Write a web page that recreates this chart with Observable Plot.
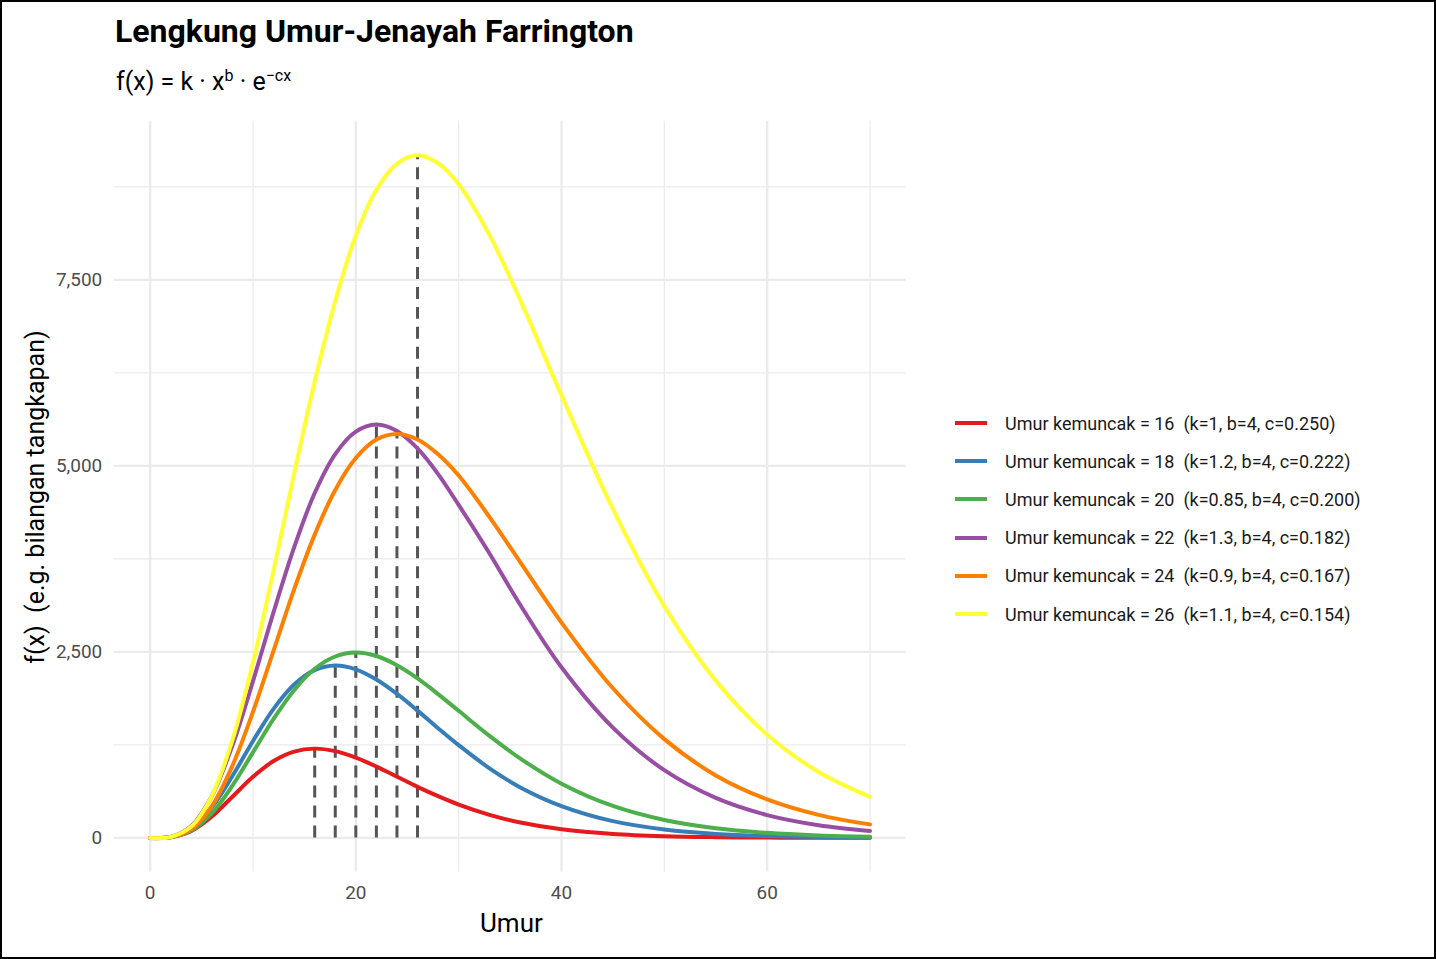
<!DOCTYPE html>
<html><head><meta charset="utf-8">
<script src="https://cdn.jsdelivr.net/npm/d3@7"></script>
<script src="https://cdn.jsdelivr.net/npm/@observablehq/plot@0.6"></script>
<style>
body{margin:0;font-family:Roboto,"Liberation Sans",Arial,sans-serif;}
#wrap{position:relative;width:1432px;height:955px;border:2px solid #000;overflow:hidden;background:#fff}
#wrap svg{position:absolute;left:-2px;top:-2px}
.t{position:absolute;white-space:nowrap}
.leg{position:absolute;left:953px;font-size:18px;color:#1a1a1a}
.leg div{height:38.2px;display:flex;align-items:center}
.leg span.sw{display:inline-block;width:32px;height:4px;margin-right:18px}
</style></head><body>
<div id="wrap">
<div class="t" style="left:113px;top:10px;font-size:32px;font-weight:bold;color:#000">Lengkung Umur-Jenayah Farrington</div>
<div class="t" style="left:114px;top:64px;font-size:25px;color:#000">f(x) = k · x<sup style="font-size:16px">b</sup> · e<sup style="font-size:16px">−cx</sup></div>
<div class="t" style="left:478px;top:906px;font-size:26px;color:#000">Umur</div>
<div class="t" style="left:33px;top:495px;font-size:25px;color:#000;transform:translate(-50%,-50%) rotate(-90deg)">f(x)&nbsp; (e.g. bilangan tangkapan)</div>
<div class="leg" id="leg" style="top:402px"></div>
</div>
<script>
const ages = [0,2,4,6,8,10,12,14,16,18,20,22,24,26,28,30,33,36,40,45,50,55,60,65,70];
const labels = ["Umur kemuncak = 16  (k=1, b=4, c=0.250)","Umur kemuncak = 18  (k=1.2, b=4, c=0.222)","Umur kemuncak = 20  (k=0.85, b=4, c=0.200)","Umur kemuncak = 22  (k=1.3, b=4, c=0.182)","Umur kemuncak = 24  (k=0.9, b=4, c=0.167)","Umur kemuncak = 26  (k=1.1, b=4, c=0.154)"];
const colors = ["#E41A1C","#377EB8","#4DAF4A","#984EA3","#FF7F00","#FFFF33"];
const s16 = [0,9.7,94,289,554,821,1033,1160,1200,1166,1078,958,823,686,561,448,310,207,116,53,23,10,4,1.6,0.6];
const s18 = [0,12.3,126,411,832,1303,1734,2061,2255,2318,2266,2128,1935,1711,1475,1247,935,679,428,225,113,54,25,11.6,5.1];
const s20 = [0,9.1,98,332,703,1150,1599,1985,2273,2438,2491,2445,2321,2144,1933,1708,1371,1066,729,429,241,130,68,34,17];
const s22 = [0,14.5,161,565,1242,2106,3035,3905,4635,5159,5460,5555,5469,5234,4890,4475,3823,3131,2293,1482,910,538,307,171,92];
const s24 = [0,10.3,118,428,970,1695,2517,3340,4076,4677,5105,5353,5429,5355,5156,4870,4312,3704,2894,2011,1328,840,518,310,182];
const s26 = [0,12.9,152,566,1314,2358,3595,4894,6135,7217,8096,8710,9062,9174,9067,8785,8101,7224,5947,4420,3114,2114,1387,886,552];
const peakAges = [16,18,20,22,24,26];
const peakVals = [1200,2318,2491,5555,5429,9174];
const series = [s16,s18,s20,s22,s24,s26];
const rows = series.flatMap((s,i)=>s.map((v,j)=>({x:ages[j],y:v,g:labels[i]})));
const peaks = peakAges.map((a,i)=>({x:a,y:peakVals[i]}));
const chart = Plot.plot({
  width:1436,height:959,marginLeft:114,marginRight:528,marginTop:121,marginBottom:85,
  x:{domain:[-3.5,73.5],ticks:[0,20,40,60],label:null,tickSize:0},
  y:{domain:[-459,9633],ticks:[0,2500,5000,7500],label:null,tickSize:0},
  color:{domain:labels,range:colors},
  style:{fontSize:"19px",fontFamily:"Roboto, sans-serif",color:"#4d4d4d"},
  marks:[
    Plot.ruleX([10,30,50,70],{stroke:"#ebebeb",strokeWidth:1.2}),
    Plot.ruleY([1250,3750,6250,8750],{stroke:"#ebebeb",strokeWidth:1.2}),
    Plot.ruleX([0,20,40,60],{stroke:"#ebebeb",strokeWidth:2.4}),
    Plot.ruleY([0,2500,5000,7500],{stroke:"#ebebeb",strokeWidth:2.4}),
    Plot.axisX({ticks:[0,20,40,60],tickSize:0,tickPadding:14,fontSize:19,fill:"#4d4d4d"}),
    Plot.axisY({ticks:[0,2500,5000,7500],tickSize:0,tickPadding:12,fontSize:19,fill:"#4d4d4d"}),
    Plot.ruleX(peaks,{x:"x",y1:0,y2:"y",stroke:"#555",strokeWidth:3,strokeDasharray:"12,8"}),
    Plot.line(rows,{x:"x",y:"y",z:"g",stroke:"g",strokeWidth:4,curve:"catmull-rom"})
  ]
});
document.getElementById("wrap").prepend(chart);
const leg=document.getElementById("leg");
labels.forEach((l,i)=>{const d=document.createElement("div");d.innerHTML=`<span class="sw" style="background:${colors[i]}"></span>${l.replace(/  /g,"&nbsp;&nbsp;")}`;leg.appendChild(d);});
</script>
</body></html>
